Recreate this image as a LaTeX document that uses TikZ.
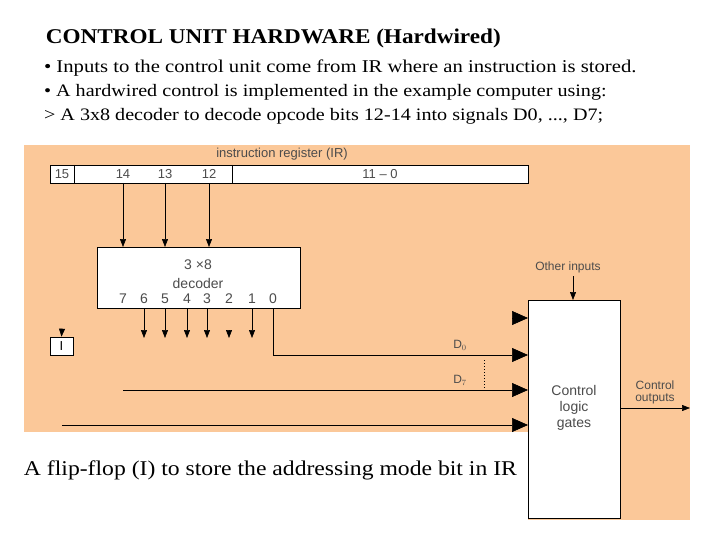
\documentclass[tikz,border=0pt]{standalone}
\usepackage{fontspec}
\setmainfont{Liberation Serif}
\setsansfont{Liberation Sans}
\usetikzlibrary{arrows.meta}
\definecolor{bgo}{RGB}{251,200,153}
\begin{document}
\begin{tikzpicture}[x=1pt,y=-1pt,
  box/.style={draw,fill=white,line width=0.6pt},
  sm/.style={-{Triangle[length=8pt,width=6pt]},line width=0.6pt},
  big/.style={-{Triangle[length=16pt,width=14pt]},line width=0.6pt},
  lab/.style={font=\sffamily\fontsize{12}{12}\selectfont,text=black!70},
  tt/.style={anchor=west,xscale=1.15,transform shape,font=\fontsize{17.5}{17.5}\selectfont}]
\useasboundingbox (0,0) rectangle (720,540);
\fill[bgo] (24,145) rectangle (690,432);
\fill[bgo] (528,432) rectangle (690,520);
\node[tt,xscale=0.96,font=\bfseries\fontsize{21}{21}\selectfont] (t1) at (42,38) {CONTROL UNIT HARDWARE (Hardwired)};
\node[tt,font=\fontsize{18}{18}\selectfont] (t2) at (40,68) {\textbullet\ Inputs to the control unit come from IR where an instruction is stored.};
\node[tt] (t3) at (40,92) {\textbullet\ A hardwired control is implemented in the example computer using:};
\node[tt] (t4) at (40,116) {> A 3x8 decoder to decode opcode bits 12-14 into signals D0, ..., D7;};
\node[tt,xscale=0.98,font=\fontsize{21}{21}\selectfont] (cap) at (20,470) {A flip-flop (I) to store the addressing mode bit in IR};
% IR
\node[lab,font=\sffamily\fontsize{13}{13}\selectfont] (irt) at (282,154) {instruction register (IR)};
\draw[box] (50,165) rectangle (528,183);
\draw (74,165) -- (74,183) (232,165) -- (232,183);
\node[lab,font=\sffamily\fontsize{13}{13}\selectfont] (b15) at (62,174) {15};
\node[lab,font=\sffamily\fontsize{13}{13}\selectfont] (b14) at (123,174) {14};
\node[lab,font=\sffamily\fontsize{13}{13}\selectfont] (b13) at (165,174) {13};
\node[lab,font=\sffamily\fontsize{13}{13}\selectfont] (b12) at (209,174) {12};
\node[lab,font=\sffamily\fontsize{13}{13}\selectfont] (b11) at (380,174) {11 -- 0};
% decoder
\node[box,minimum width=203pt,minimum height=61pt,inner sep=0] (dec) at (198.5,277.5) {};
\node[lab,font=\sffamily\fontsize{14}{14}\selectfont] (d1) at (198,265) {3 ×8};
\node[lab,font=\sffamily\fontsize{14}{14}\selectfont] (d2) at (198,283) {decoder};
\foreach \n/\x in {7/123,6/144,5/165,4/187,3/207,2/229,1/252,0/273}
  \node[lab,font=\sffamily\fontsize{14}{14}\selectfont] (o\n) at (\x,299) {\n};
\foreach \x in {123,165,209} \draw[sm] (\x,183) -- (\x,247);
\foreach \x in {144,165,187,207,252} \draw[sm] (\x,308) -- (\x,338);
\draw[sm] (229,330) -- (229,338);
% flip-flop
\node[box,minimum width=23pt,minimum height=18pt,inner sep=0,font=\sffamily\fontsize{13}{13}\selectfont] (ff) at (61.5,346) {I};
\draw[sm] (62,329) -- (ff.north);
% control
\node[box,minimum width=92pt,minimum height=218pt,inner sep=0] (cl) at (574,409) {};
\node[lab,align=center,font=\sffamily\fontsize{14}{16}\selectfont] (clt) at (574,408) {Control\\logic\\gates};
\node[lab] (oi) at (568,267) {Other inputs};
\draw[sm] (573,276) -- (573,300);
\draw[big] (512,318) -- (528,318);
\draw[big] (273,308) -- (273,355) -- (528,355);
\draw[big] (123,390) -- (528,390);
\draw[big] (62,425) -- (528,425);
\node[lab] (d0) at (460,345) {D$_0$};
\node[lab] (d7) at (460,380) {D$_7$};
\draw[dotted,line width=1pt] (484,360) -- (484,390);
\draw[sm] (620,408) -- (690,408);
\node[lab,align=center] (co) at (655,392) {Control\\outputs};
\end{tikzpicture}
\end{document}
